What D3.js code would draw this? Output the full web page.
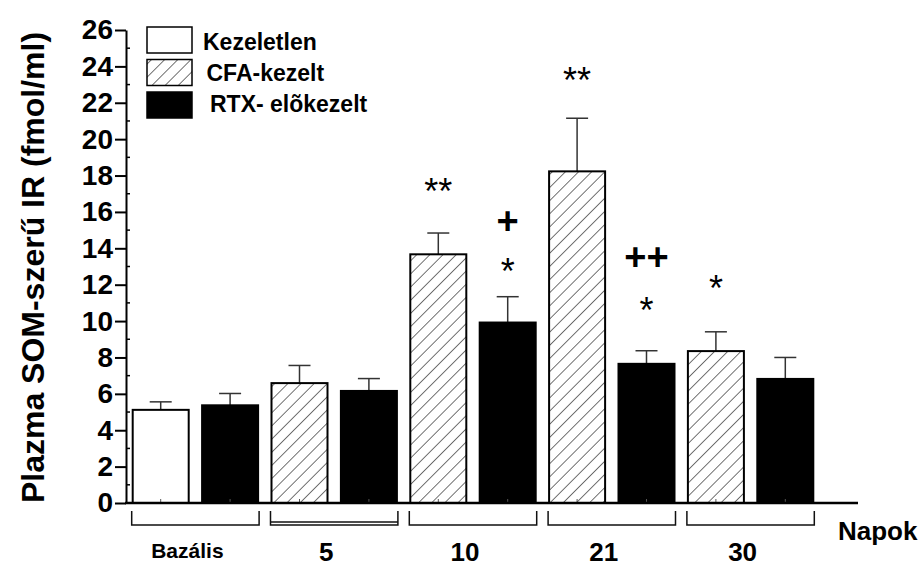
<!DOCTYPE html>
<html>
<head>
<meta charset="utf-8">
<script src="https://cdn.jsdelivr.net/npm/d3@7"></script>
<style>
  body { margin: 0; background: #fff; }
  svg { display: block; font-family: "Liberation Sans", Arial, sans-serif; font-weight: bold; }
</style>
</head>
<body>
<div id="chart"></div>
<script>
// groups on the x axis (days)
const groups = ["Bazális", "5", "10", "21", "30"];
// first bar of each group: untreated at baseline, CFA afterwards
const firstSeries = ["Kezeletlen", "CFA-kezelt", "CFA-kezelt", "CFA-kezelt", "CFA-kezelt"];
const firstValues = [5.12, 6.59, 13.67, 18.23, 8.35];
const firstErr = [0.44, 0.97, 1.17, 2.92, 1.06];
// second bar: RTX pretreated
const rtxValues = [5.37, 6.16, 9.92, 7.65, 6.82];
const rtxErr = [0.65, 0.68, 1.42, 0.72, 1.18];

const legendItems = ["Kezeletlen", "CFA-kezelt", "RTX- elõkezelt"];
const yTicks = [0, 2, 4, 6, 8, 10, 12, 14, 16, 18, 20, 22, 24, 26];

// significance marks: group, bar (0 = first, 1 = RTX), symbol, level (fmol/ml)
const marks = [
    {group: "10", bar: 0, text: "**", level: 17.6},
    {group: "10", bar: 1, text: "+", level: 15.5},
    {group: "10", bar: 1, text: "*", level: 13.2},
    {group: "21", bar: 0, text: "**", level: 23.7},
    {group: "21", bar: 1, text: "++", level: 13.5},
    {group: "21", bar: 1, text: "*", level: 11.1},
    {group: "30", bar: 0, text: "*", level: 12.3}
];

const width = 921;
const height = 567;
const mLeft = 126, mTop = 30, mBottom = 503, mRight = 858;

const svg = d3.select("#chart")
    .append("svg")
    .attr("width", width)
    .attr("height", height);

const defs = svg.append("defs");
defs.append("pattern")
    .attr("id", "hatch")
    .attr("patternUnits", "userSpaceOnUse")
    .attr("width", 9.3)
    .attr("height", 10)
    .attr("patternTransform", "rotate(45)")
    .append("line")
    .attr("x1", 0).attr("y1", 0)
    .attr("x2", 0).attr("y2", 10)
    .attr("stroke", "#000")
    .attr("stroke-width", 1.1);

const fillFor = (s) => s === "Kezeletlen" ? "#fff" : s === "CFA-kezelt" ? "url(#hatch)" : "#000";

const x0 = d3.scaleBand().domain(groups).range([mLeft, mLeft + 5 * 138.8]).padding(0);
const x1 = d3.scaleBand().domain([0, 1]).range([0, x0.bandwidth()]).paddingInner(0.193).paddingOuter(0.0965);
const y = d3.scaleLinear().domain([0, 26]).range([mBottom, mTop]);

const bars = [];
groups.forEach((g, i) => {
    bars.push({group: g, bar: 0, series: firstSeries[i], value: firstValues[i], err: firstErr[i]});
    bars.push({group: g, bar: 1, series: "RTX- elõkezelt", value: rtxValues[i], err: rtxErr[i]});
});
const barX = (d) => x0(d.group) + x1(d.bar);

// error bars (upper only)
const eb = svg.append("g").attr("stroke", "#333").attr("stroke-width", 1.5);
eb.selectAll(".stem")
    .data(bars)
    .enter()
    .append("line")
    .attr("x1", d => barX(d) + x1.bandwidth() / 2)
    .attr("x2", d => barX(d) + x1.bandwidth() / 2)
    .attr("y1", d => y(d.value))
    .attr("y2", d => y(d.value + d.err));
eb.selectAll(".cap")
    .data(bars)
    .enter()
    .append("line")
    .attr("x1", d => barX(d) + x1.bandwidth() / 2 - 11)
    .attr("x2", d => barX(d) + x1.bandwidth() / 2 + 11)
    .attr("y1", d => y(d.value + d.err))
    .attr("y2", d => y(d.value + d.err));

// bars
svg.append("g")
    .selectAll("rect")
    .data(bars)
    .enter()
    .append("rect")
    .attr("x", d => barX(d))
    .attr("y", d => y(d.value))
    .attr("width", x1.bandwidth())
    .attr("height", d => y(0) - y(d.value))
    .attr("fill", d => fillFor(d.series))
    .attr("stroke", "#000")
    .attr("stroke-width", 2);

// small ticks at bar centres
svg.append("g")
    .selectAll("line")
    .data(bars)
    .enter()
    .append("line")
    .attr("x1", d => barX(d) + x1.bandwidth() / 2)
    .attr("x2", d => barX(d) + x1.bandwidth() / 2)
    .attr("y1", mBottom)
    .attr("y2", mBottom - 4)
    .attr("stroke", "#555")
    .attr("stroke-width", 1);

// x axis line
svg.append("line")
    .attr("x1", mLeft - 1).attr("x2", mRight)
    .attr("y1", mBottom).attr("y2", mBottom)
    .attr("stroke", "#000").attr("stroke-width", 2.5);

// y axis
const yAxis = svg.append("g")
    .attr("transform", `translate(${mLeft},0)`)
    .call(d3.axisLeft(y).tickValues(yTicks).tickSize(11).tickPadding(2).tickSizeOuter(0));
yAxis.select(".domain").attr("stroke-width", 2);
yAxis.selectAll(".tick line").attr("stroke-width", 2);
yAxis.selectAll(".tick text")
    .attr("font-size", 28)
    .attr("font-weight", "bold")
    .attr("font-family", "Liberation Sans, Arial, sans-serif")
    .attr("fill", "#000");
// minor ticks inside
svg.append("g")
    .selectAll("line")
    .data(d3.range(1, 26, 2))
    .enter()
    .append("line")
    .attr("x1", mLeft).attr("x2", mLeft + 4)
    .attr("y1", d => y(d)).attr("y2", d => y(d))
    .attr("stroke", "#000").attr("stroke-width", 1.5);

// y title
svg.append("text")
    .attr("transform", `translate(44,${(mTop + mBottom) / 2 + 1}) rotate(-90)`)
    .attr("text-anchor", "middle")
    .attr("font-size", 32)
    .text("Plazma SOM-szerű IR (fmol/ml)");

// group brackets
const br = svg.append("g").attr("fill", "none").attr("stroke", "#111").attr("stroke-width", 1.5);
groups.forEach((g, i) => {
    const xa = x0(g) + x1(0) - 1;
    const xb = x0(g) + x1(1) + x1.bandwidth() + 1;
    br.append("path").attr("d", `M${xa},511 V525 H${xb} V511`);
    if (g === "5") br.append("line").attr("x1", xa).attr("x2", xb).attr("y1", 522).attr("y2", 522);
});

// group labels
svg.append("g")
    .selectAll("text")
    .data(groups)
    .enter()
    .append("text")
    .attr("x", d => x0(d) + x0.bandwidth() / 2 - 8)
    .attr("y", d => d === "Bazális" ? 558 : 561)
    .attr("text-anchor", "middle")
    .attr("font-size", d => d === "Bazális" ? 21 : 26)
    .text(d => d);

svg.append("text")
    .attr("x", 838).attr("y", 540)
    .attr("font-size", 26)
    .text("Napok");

// significance marks
svg.append("g")
    .selectAll("text")
    .data(marks)
    .enter()
    .append("text")
    .attr("x", d => x0(d.group) + x1(d.bar) + x1.bandwidth() / 2)
    .attr("y", d => y(d.level))
    .attr("dy", d => d.text[0] === "*" ? "0.6em" : "0.34em")
    .attr("text-anchor", "middle")
    .attr("font-weight", d => d.text[0] === "*" ? "normal" : "bold")
    .attr("font-size", d => d.text[0] === "*" ? 36 : 38)
    .text(d => d.text);

// legend
const lg = svg.append("g");
legendItems.forEach((s, i) => {
    lg.append("rect")
        .attr("x", 147).attr("y", 27 + i * 32.5)
        .attr("width", 45).attr("height", 26)
        .attr("fill", fillFor(s))
        .attr("stroke", "#000").attr("stroke-width", 1.5);
    lg.append("text")
        .attr("x", 203 + i * 3.5).attr("y", 50 + i * 31)
        .attr("font-size", 23)
        .text(s);
});
</script>
</body>
</html>
